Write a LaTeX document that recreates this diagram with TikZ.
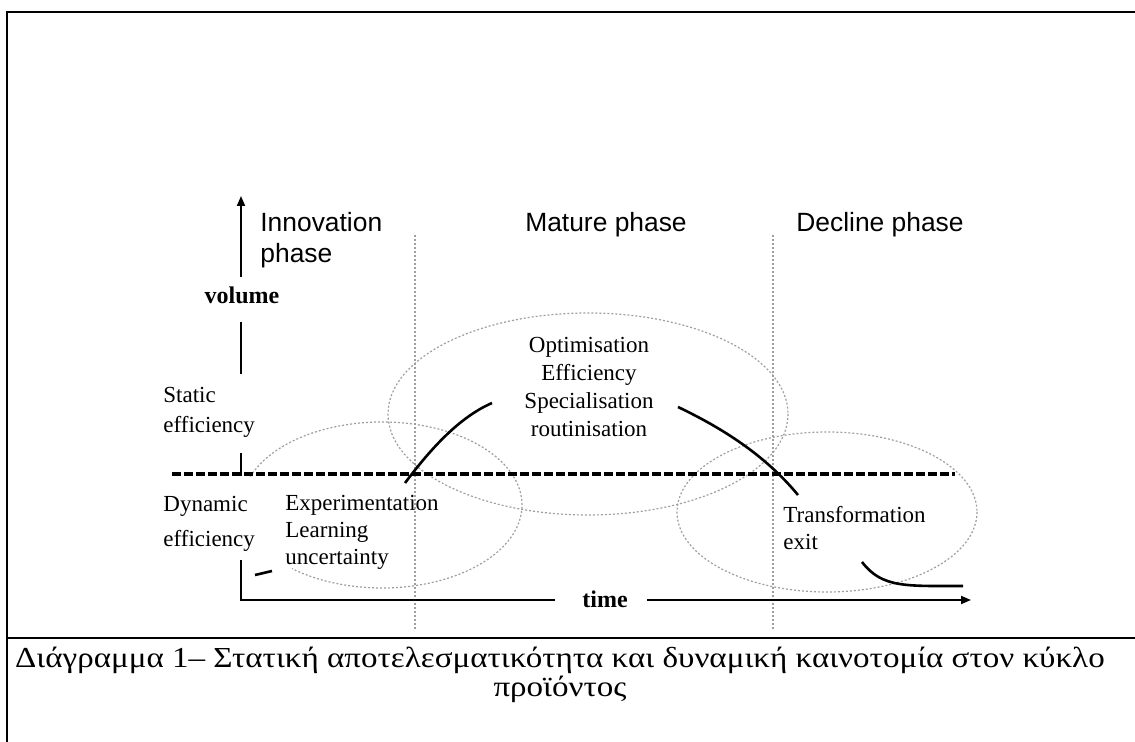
\documentclass[tikz,border=0pt]{standalone}
\usepackage{fontspec}
\setmainfont{Liberation Serif}
\newfontfamily\phasefont{Liberation Sans}
\newfontfamily\captionfont{Liberation Serif}[FakeStretch=1.14]
\usetikzlibrary{arrows.meta}
\tikzset{
	phase/.style={font=\phasefont\fontsize{13.2}{15.5}\selectfont, inner sep=0pt},
	lbl/.style={font=\fontsize{11.5}{14}\selectfont, inner sep=0pt},
	axislbl/.style={font=\bfseries\fontsize{12}{14}\selectfont, inner sep=0pt},
	zone/.style={gray!75, line width=0.6pt, dash pattern=on 1pt off 1pt},
	frameline/.style={line width=1pt},
	axisline/.style={line width=0.9pt},
	cycleline/.style={line width=1.3pt},
	boundary/.style={line width=1.6pt, dash pattern=on 4.5pt off 1.5pt},
}
\begin{document}
\begin{tikzpicture}[x=0.5pt,y=-0.5pt]
	\useasboundingbox (0,0) rectangle (1135,742);
	\draw[frameline] (1135,12) -- (7,12) -- (7,742);
	\draw[frameline] (7,638) -- (1135,638);
	
	\node[phase, anchor=base west, align=left] (innov) at (260,263) {Innovation\\phase};
	\node[phase, anchor=base] (mature) at (606,232) {Mature phase};
	\node[phase, anchor=base] (decline) at (880,232) {Decline phase};
	
	\draw[zone] (415,235) -- (415,630);
	\draw[zone] (773,235) -- (773,630);
	
	\draw[zone] (588,414) ellipse [x radius=200, y radius=101];
	\draw[zone] (827,512) ellipse [x radius=150, y radius=80];
	\draw[zone] (382,505) ++(200:140 and 83) arc[start angle=200, end angle=490, x radius=140, y radius=83];
	
	\draw[boundary] (172,474) -- (955,474);
	
	\node[axislbl, anchor=base] (volume) at (242,304) {volume};
	\node[axislbl, anchor=base] (time) at (605,608) {time};
	
	\coordinate (ytop) at (241,196);
	\coordinate (ya) at (241,277);
	\coordinate (yb) at (241,322);
	\coordinate (yc) at (241,374);
	\coordinate (yd) at (241,453);
	\coordinate (ye) at (241,476);
	\coordinate (yf) at (241,560);
	\coordinate (origin) at (241,600);
	\coordinate (xa) at (555,600);
	\coordinate (xb) at (647,600);
	\coordinate (xend) at (971,600);
	\draw[axisline,-{Triangle[length=5pt,width=4pt]}] (ya)--(ytop);
	\draw[axisline] (yb)--(yc);
	\draw[axisline] (yd)--(ye);
	\draw[axisline] (yf)--(origin)--(xa);
	\draw[axisline,-{Triangle[length=5pt,width=4pt]}] (xb)--(xend);
	
	\draw[cycleline] (255,575)--(272,571);
	\draw[cycleline] (405,483) .. controls (432,447) and (460,417) .. (492,403);
	\draw[cycleline] (678,407) .. controls (722,428) and (765,455) .. (798,495);
	\draw[cycleline] (862,562) .. controls (882,588) and (905,586) .. (963,586);
	
	\node[lbl, anchor=base west, align=left, font=\fontsize{11.5}{15}\selectfont] (static) at (163,433) {Static\\efficiency};
	\node[lbl, anchor=base west, align=left, font=\fontsize{11.5}{17.5}\selectfont] (dynamic) at (163,547) {Dynamic\\efficiency};
	\node[lbl, anchor=base west, align=left, font=\fontsize{11.5}{13.5}\selectfont] (explore) at (285,565) {Experimentation\\Learning\\uncertainty};
	\node[lbl, anchor=base, align=center] (optim) at (589,437) {Optimisation\\Efficiency\\Specialisation\\routinisation};
	\node[lbl, anchor=base west, align=left, font=\fontsize{11.5}{13.5}\selectfont] (transf) at (783,550) {Transformation\\exit};
	
	\node[anchor=base, align=center, font=\captionfont\fontsize{14.5}{14.5}\selectfont] (caption) at (560,697) {Διάγραμμα 1– Στατική αποτελεσματικότητα και δυναμική καινοτομία στον κύκλο\\προϊόντος};
\end{tikzpicture}
\end{document}
